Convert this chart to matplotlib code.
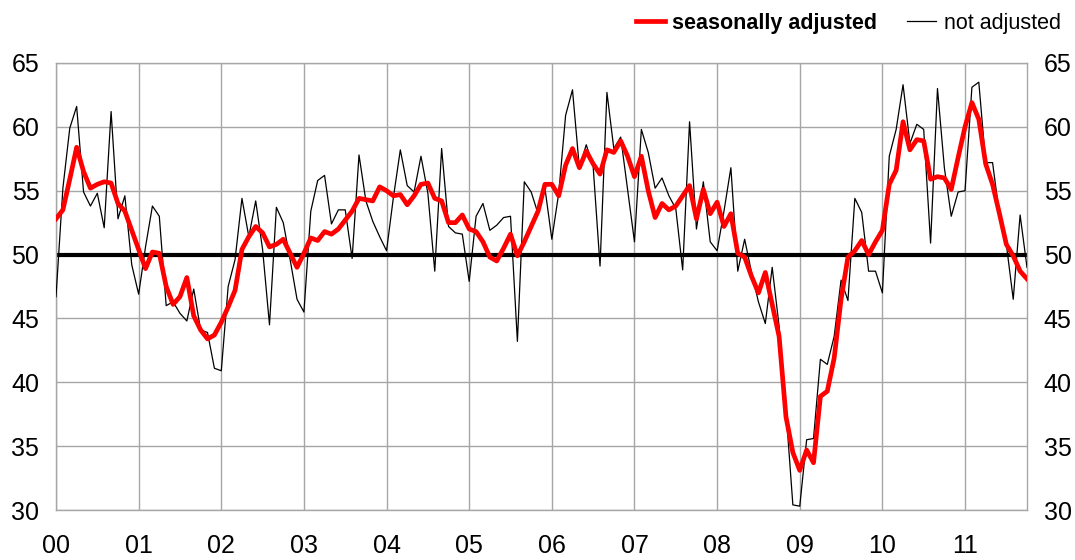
import matplotlib
matplotlib.use("Agg")
import matplotlib.pyplot as plt
import numpy as np

plt.rcParams["font.family"] = ["Liberation Sans", "DejaVu Sans"]

# monthly index values, Jan 2000 .. Oct 2011
not_adjusted = [
    46.7, 55.2, 59.9, 61.6, 54.9, 53.8, 54.8, 52.1, 61.2, 52.8, 54.6, 49.2,
    46.9, 50.6, 53.8, 53.0, 46.0, 46.3, 45.4, 44.8, 47.3, 44.1, 43.9, 41.1,
    40.9, 47.5, 49.6, 54.4, 51.4, 54.2, 50.4, 44.5, 53.7, 52.5, 49.6, 46.5,
    45.5, 53.4, 55.8, 56.2, 52.4, 53.5, 53.5, 49.7, 57.8, 54.2, 52.6, 51.4,
    50.3, 54.5, 58.2, 55.4, 54.9, 57.7, 54.8, 48.7, 58.3, 52.2, 51.7, 51.6,
    47.9, 53.0, 54.0, 51.9, 52.3, 52.9, 53.0, 43.2, 55.7, 54.9, 53.2, 55.2,
    51.2, 54.8, 60.9, 62.9, 56.8, 58.6, 56.9, 49.1, 62.7, 58.3, 59.2, 55.1,
    51.0, 59.8, 58.0, 55.2, 56.0, 54.6, 53.6, 48.8, 60.4, 52.0, 55.7, 51.0,
    50.3, 53.4, 56.8, 48.7, 51.2, 48.6, 46.3, 44.6, 49.0, 44.4, 37.8, 30.4,
    30.3, 35.5, 35.6, 41.8, 41.4, 43.6, 48.0, 46.4, 54.4, 53.3, 48.7, 48.7,
    47.0, 57.7, 59.8, 63.3, 58.7, 60.2, 59.8, 50.9, 63.0, 56.8, 53.0, 54.9,
    55.0, 63.1, 63.5, 57.2, 57.2, 53.1, 50.8, 46.5, 53.1, 49.0,
]
seasonally_adj = [
    52.8, 53.5, 55.9, 58.4, 56.5, 55.2, 55.5, 55.7, 55.6, 54.0, 53.4, 51.9,
    50.4, 48.9, 50.2, 50.1, 47.5, 46.1, 46.7, 48.2, 45.2, 44.1, 43.4, 43.7,
    44.7, 45.9, 47.2, 50.4, 51.4, 52.2, 51.7, 50.6, 50.8, 51.2, 50.1, 49.0,
    50.1, 51.3, 51.1, 51.8, 51.6, 52.0, 52.7, 53.4, 54.4, 54.3, 54.2, 55.3,
    55.0, 54.6, 54.7, 53.9, 54.6, 55.5, 55.6, 54.4, 54.2, 52.5, 52.5, 53.1,
    52.0, 51.8, 51.0, 49.8, 49.5, 50.5, 51.6, 49.9, 51.0, 52.2, 53.4, 55.5,
    55.5, 54.6, 57.0, 58.3, 56.8, 58.1, 57.1, 56.3, 58.2, 58.0, 58.9, 57.7,
    56.1, 57.7, 55.0, 52.9, 54.0, 53.5, 53.8, 54.6, 55.4, 52.8, 55.1, 53.2,
    54.1, 52.2, 53.2, 50.1, 49.8, 48.3, 47.0, 48.6, 46.1, 43.6, 37.3, 34.5,
    33.1, 34.7, 33.7, 38.9, 39.3, 41.9, 46.5, 49.8, 50.3, 51.1, 50.0, 51.0,
    51.9, 55.5, 56.6, 60.4, 58.2, 59.0, 58.9, 55.9, 56.1, 56.0, 55.1, 57.6,
    60.0, 61.9, 60.6, 57.1, 55.5, 53.2, 50.8, 49.9, 48.7, 48.1,
]
year_labels = ["00", "01", "02", "03", "04", "05", "06", "07", "08", "09", "10", "11"]
y_ticks = [30, 35, 40, 45, 50, 55, 60, 65]

months = np.arange(len(seasonally_adj))
grid_col = "#a6a6a6"

fig = plt.figure(figsize=(10.75, 5.6), dpi=100)
ax = fig.add_axes([56 / 1075, 1 - 510 / 560, (1027 - 56) / 1075, (510 - 63) / 560])

ax.plot(months, not_adjusted, color="black", lw=0.9, zorder=3, label="not adjusted")
ax.plot(months, seasonally_adj, color="#ff0000", lw=3.4, zorder=4,
        solid_joinstyle="round", label="seasonally adjusted")
ax.axhline(50, color="black", lw=3.0, zorder=2)

ax.set_xlim(0, len(months) - 1)
ax.set_ylim(30, 65)
ax.set_xticks(np.arange(len(year_labels)) * 12)
ax.set_xticklabels(year_labels)
ax.set_yticks(y_ticks)
ax.grid(True, color=grid_col, lw=1.0, zorder=1)
for s in ax.spines.values():
    s.set_color(grid_col)
    s.set_linewidth(1.0)
ax.tick_params(length=0, labelsize=18, labelright=True, pad=12)
ax.tick_params(axis="x", pad=17)

# legend in top right, red line first
h, l = ax.get_legend_handles_labels()
leg = fig.legend(h[::-1], l[::-1], loc="upper right", bbox_to_anchor=(1061 / 1075, 1 - 13 / 560),
                 ncol=2, frameon=False, fontsize=15.5, handlelength=1.35,
                 handletextpad=0.35, columnspacing=1.4, borderpad=0, borderaxespad=0)
leg.get_texts()[0].set_fontweight("bold")

plt.savefig("out.png", dpi=100)
plt.close()
